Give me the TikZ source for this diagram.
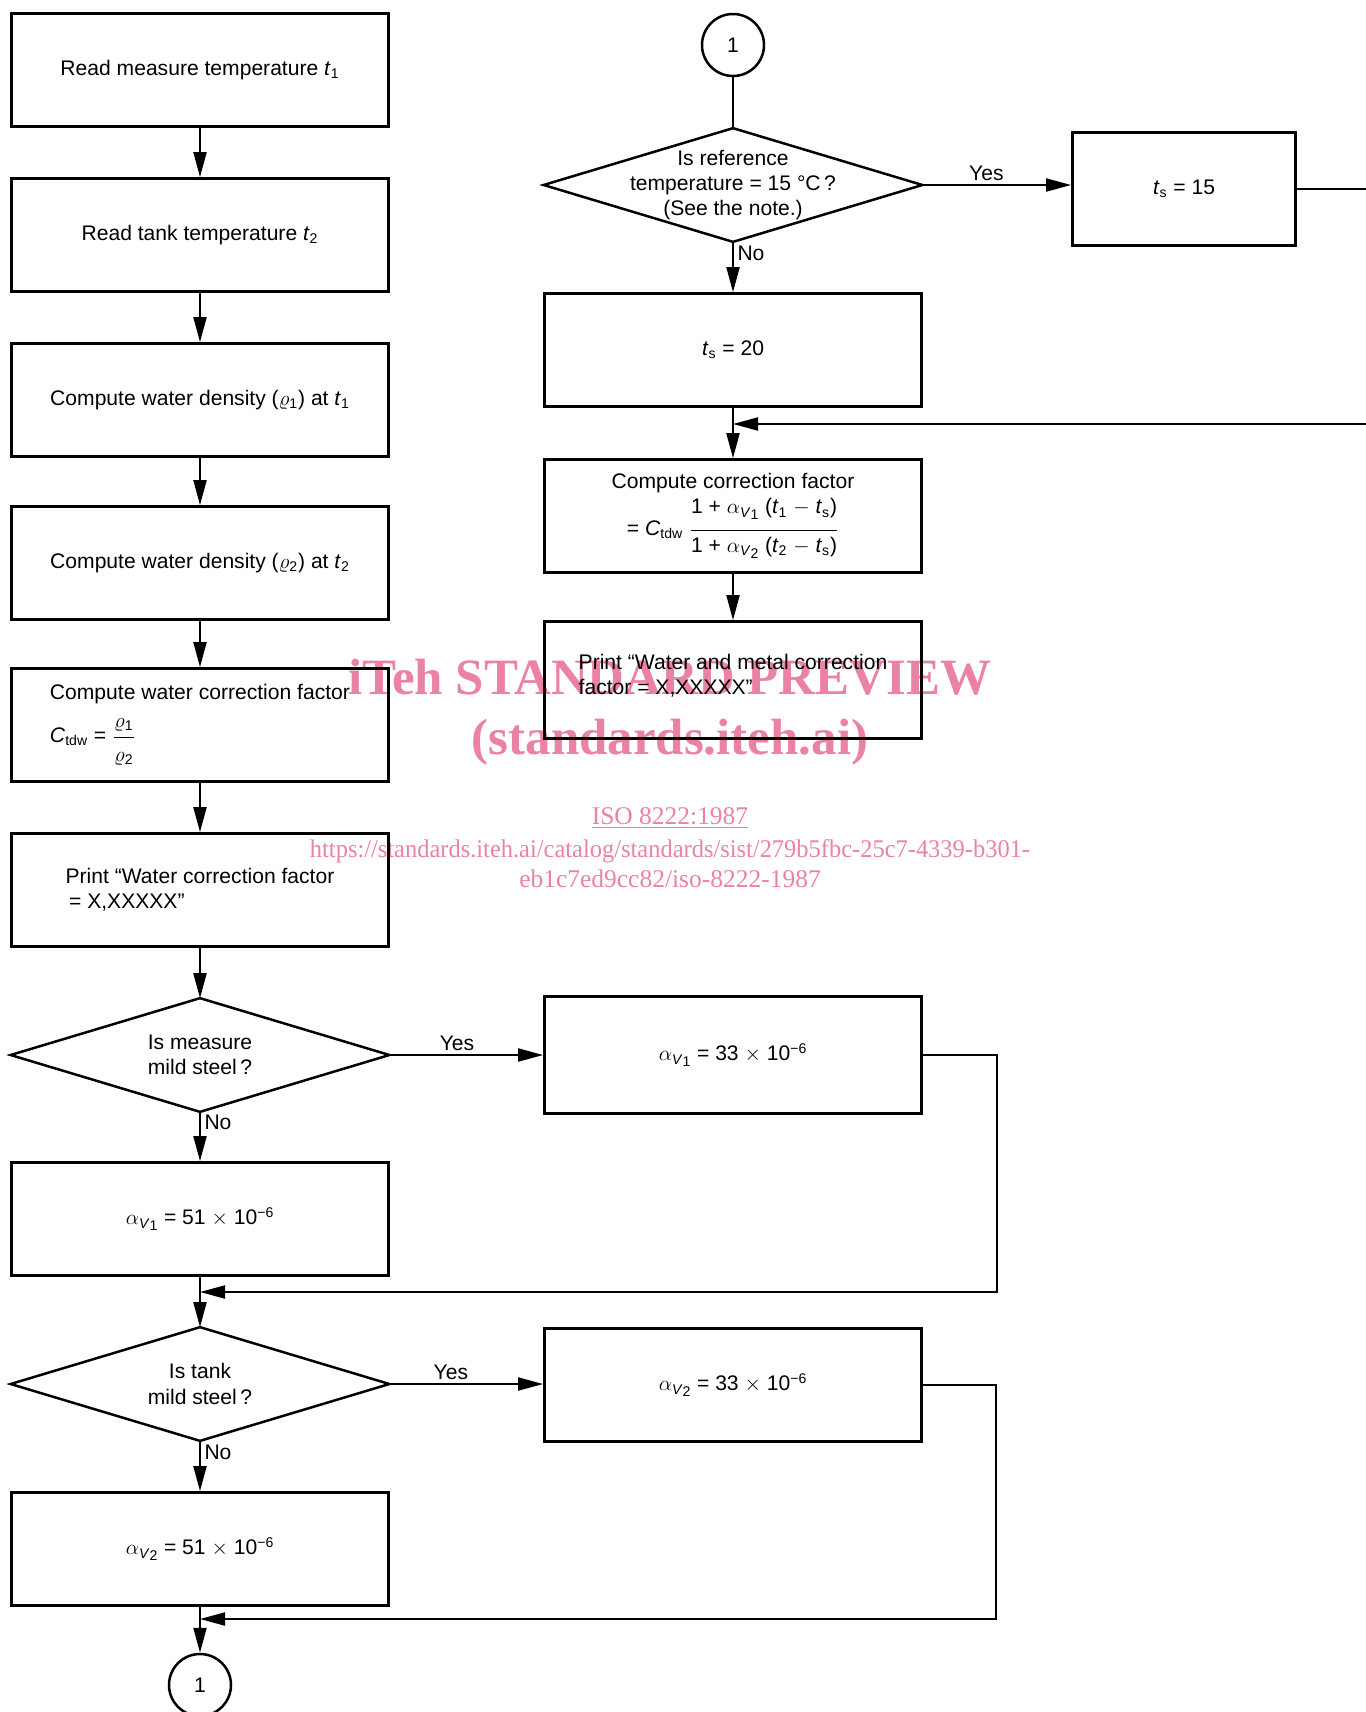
\documentclass[tikz,border=0pt]{standalone}
\usepackage{fontspec}
\usepackage{amsmath}
\setmainfont{Liberation Sans}
\newfontfamily\wmfont{Liberation Serif}
\usetikzlibrary{arrows.meta}
\definecolor{wm}{RGB}{235,130,165}
\newcommand\vt[1]{\textit{t}\textsubscript{#1}}
\newcommand\aV[1]{$\alpha$\textsubscript{\textit{V}\raisebox{-0.35ex}{#1}}}
\newcommand\numstrut{\rule[-0.6ex]{0pt}{1ex}}
\newcommand\denstrut{\rule{0pt}{1.9ex}}
\newcommand\rnumstrut{\rule[-1.2ex]{0pt}{1ex}}
\newcommand\rdenstrut{\rule{0pt}{1.75ex}}
\begin{document}
\begin{tikzpicture}[x=0.2mm,y=-0.2mm,
  txt/.style={font=\fontsize{12}{14.4}\selectfont},
  box/.style={txt,draw,line width=0.55mm,minimum width=75.4mm,minimum height=22.6mm,inner sep=0pt,align=center},
  dia/.style={txt,minimum width=75.6mm,minimum height=22.6mm,inner sep=0pt,align=center},
  diaedge/.style={line width=0.5mm,line join=miter},
  circ/.style={txt,draw,circle,line width=0.5mm,minimum size=12.4mm,inner sep=0pt},
  conn/.style={line width=0.4mm},
  arr/.style={conn,-{Triangle[length=5mm,width=2.6mm]}},
  lab/.style={txt,inner sep=2pt},
  wmbig/.style={text=wm,inner sep=0pt,anchor=base,font=\wmfont\bfseries\fontsize{29}{32}\selectfont},
  wmsmall/.style={text=wm,inner sep=0pt,anchor=base,font=\wmfont\fontsize{14.5}{16}\selectfont}]
\useasboundingbox (0,0) rectangle (1366,1712);
% watermark (background)
\node[wmbig] (wm1) at (670,694) {iTeh STANDARD PREVIEW};
\node[wmbig] (wm2) at (670,754) {(standards.iteh.ai)};
\node[wmsmall] (wm3) at (670,824) {\underline{ISO 8222:1987}};
\node[wmsmall] (wm4) at (670,857) {\scalebox{0.96}[1]{https://standards.iteh.ai/catalog/standards/sist/279b5fbc-25c7-4339-b301-}};
\node[wmsmall] (wm5) at (670,887) {eb1c7ed9cc82/iso-8222-1987};
% left column
\node[box] (b1) at (200,70) {Read measure temperature \vt{1}};
\node[box] (b2) at (200,235) {Read tank temperature \vt{2}};
\node[box] (b3) at (200,400) {Compute water density ($\varrho$\textsubscript{1}) at \vt{1}};
\node[box] (b4) at (200,563) {Compute water density ($\varrho$\textsubscript{2}) at \vt{2}};
\node[box,align=left] (b5) at (200,725) {Compute water correction factor\\[7pt]
  \textit{C}\textsubscript{tdw} = $\dfrac{\mbox{\numstrut$\varrho$\textsubscript{1}}}{\mbox{\denstrut$\varrho$\textsubscript{2}}}$};
\node[box,align=left] (b6) at (200,890) {Print ``Water correction factor\\ \,= X,XXXXX''};
\node[dia] (d1) at (200,1055) {Is measure\\ mild steel\,?};
\draw[diaedge] (d1.west) -- (d1.north) -- (d1.east) -- (d1.south) -- cycle;
\node[box] (b7) at (200,1219) {\aV{1} = 51 $\times$ 10\textsuperscript{\textminus 6}};
\node[dia] (d2) at (200,1384) {Is tank\\ mild steel\,?};
\draw[diaedge] (d2.west) -- (d2.north) -- (d2.east) -- (d2.south) -- cycle;
\node[box] (b8) at (200,1549) {\aV{2} = 51 $\times$ 10\textsuperscript{\textminus 6}};
\node[circ] (c2) at (200,1685) {1};
% right column
\node[circ] (c1) at (733,45) {1};
\node[dia] (d0) at (733,185) {Is reference\\ temperature = 15 °C\,?\\ (See the note.)};
\draw[diaedge] (d0.west) -- (d0.north) -- (d0.east) -- (d0.south) -- cycle;
\node[box,minimum width=44.6mm] (r1) at (1184,189) {\vt{s} = 15};
\node[box] (r2) at (733,350) {\vt{s} = 20};
\node[box] (r3) at (733,516) {Compute correction factor\\[2pt]
  = \textit{C}\textsubscript{tdw} $\dfrac{\mbox{\rnumstrut 1 + \aV{1} (\vt{1} $-$ \vt{s})}}{\mbox{\rdenstrut 1 + \aV{2} (\vt{2} $-$ \vt{s})}}$};
\node[box,align=left,minimum height=23.4mm] (r4) at (733,680) {Print ``Water and metal correction\\ factor = X,XXXXX''\\[-8pt]};
\node[box,minimum height=23.4mm] (r5) at (733,1055) {\aV{1} = 33 $\times$ 10\textsuperscript{\textminus 6}};
\node[box] (r6) at (733,1385) {\aV{2} = 33 $\times$ 10\textsuperscript{\textminus 6}};
% coordinates for free ends and junctions
\coordinate (e1) at (1366,189);
\coordinate (e2) at (1366,424);
\coordinate (j0) at (733,424);
\coordinate (k1) at (997,1292);
\coordinate (j1) at (200,1292);
\coordinate (k2) at (996,1619);
\coordinate (j2) at (200,1619);
% connectors left
\draw[arr] (b1.south) -- (b2.north);
\draw[arr] (b2.south) -- (b3.north);
\draw[arr] (b3.south) -- (b4.north);
\draw[arr] (b4.south) -- (b5.north);
\draw[arr] (b5.south) -- (b6.north);
\draw[arr] (b6.south) -- (d1.north);
\draw[arr] (d1.east) -- node[lab,above,pos=0.44] {Yes} (d1.east -| r5.west);
\draw[arr] (d1.south) -- node[lab,pos=0.22,right] {No} (b7.north);
\draw[arr] (r5.east) -| (k1) -- (j1);
\draw[arr] (b7.south) -- (d2.north);
\draw[arr] (d2.east) -- node[lab,above,pos=0.40] {Yes} (d2.east -| r6.west);
\draw[arr] (d2.south) -- node[lab,pos=0.22,right] {No} (b8.north);
\draw[arr] (r6.east) -| (k2) -- (j2);
\draw[arr] (b8.south) -- (c2.north);
% connectors right
\draw[conn] (c1.south) -- (d0.north);
\draw[arr] (d0.east) -- node[lab,above,pos=0.43] {Yes} (d0.east -| r1.west);
\draw[arr] (d0.south) -- node[lab,pos=0.22,right] {No} (r2.north);
\draw[conn] (r1.east) -- (e1);
\draw[arr] (e2) -- (j0);
\draw[arr] (r2.south) -- (r3.north);
\draw[arr] (r3.south) -- (r4.north);
\end{tikzpicture}
\end{document}
